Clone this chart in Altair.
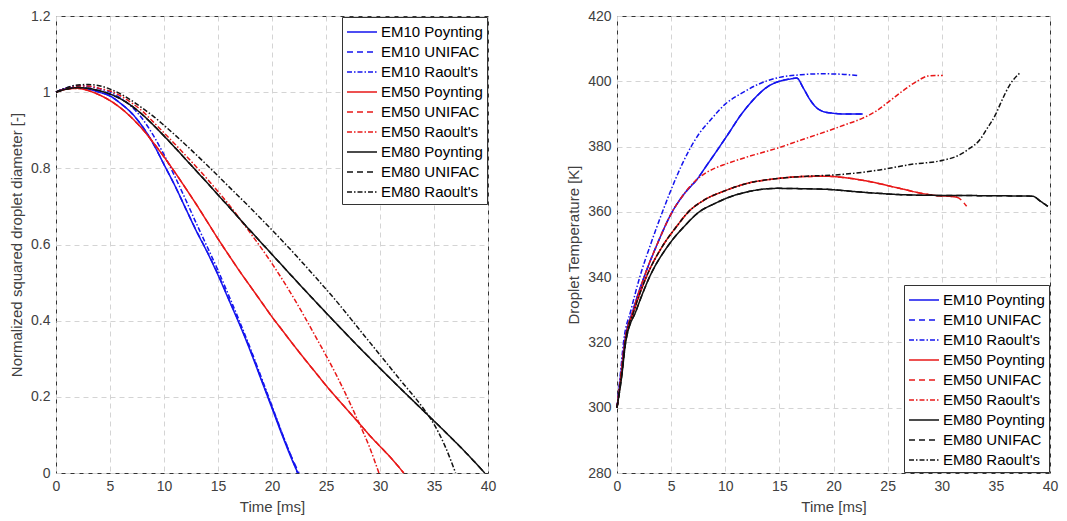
import altair as alt
import pandas as pd

series = ["EM10 Poynting", "EM10 UNIFAC", "EM10 Raoult's",
          "EM50 Poynting", "EM50 UNIFAC", "EM50 Raoult's",
          "EM80 Poynting", "EM80 UNIFAC", "EM80 Raoult's"]
colors = ["#1414ee", "#1414ee", "#1414ee",
          "#e81818", "#e81818", "#e81818",
          "#111111", "#111111", "#111111"]
dashes = [[1, 0], [6, 4], [5, 2, 1.5, 2]] * 3

# ---------------- left panel: normalized squared diameter ----------------
t_em10_poy = [0, 1, 2, 3, 4, 5, 6, 7, 8, 9, 10, 11, 12, 13, 14, 15, 16, 17, 18, 19, 20, 21, 22, 22.4]
d_em10_poy = [1, 1.01, 1.012, 1.008, 1.0, 0.99, 0.97, 0.945, 0.91, 0.865, 0.81, 0.755, 0.695, 0.635,
              0.58, 0.52, 0.455, 0.39, 0.32, 0.245, 0.17, 0.095, 0.025, 0]
t_em10_uni = [0, 1, 2, 3, 4, 5, 6, 7, 8, 9, 10, 11, 12, 13, 14, 15, 16, 17, 18, 19, 20, 21, 22, 22.5]
d_em10_uni = [1, 1.01, 1.012, 1.008, 1.0, 0.99, 0.97, 0.945, 0.91, 0.865, 0.81, 0.755, 0.695, 0.636,
              0.581, 0.522, 0.457, 0.392, 0.323, 0.248, 0.173, 0.099, 0.03, 0]
t_em10_rao = [0, 1, 2, 3, 4, 5, 6, 7, 8, 9, 10, 11, 12, 13, 14, 15, 16, 17, 18, 19, 20, 21, 22, 22.35]
d_em10_rao = [1, 1.012, 1.017, 1.015, 1.009, 1.0, 0.984, 0.962, 0.93, 0.887, 0.836, 0.779, 0.718, 0.655,
              0.594, 0.532, 0.466, 0.398, 0.327, 0.252, 0.176, 0.1, 0.027, 0]

t_em50_poy = [0, 1, 2, 3, 4, 5, 6, 7, 8, 9, 10, 11, 12, 13, 14, 15, 16, 17, 18, 19, 20, 21, 22, 23, 24,
              25, 26, 27, 28, 29, 30, 31, 32.2]
d_em50_poy = [1, 1.008, 1.01, 1.004, 0.993, 0.978, 0.958, 0.933, 0.903, 0.868, 0.83, 0.79, 0.748, 0.705,
              0.66, 0.615, 0.572, 0.53, 0.49, 0.45, 0.41, 0.373, 0.336, 0.3, 0.265, 0.23, 0.197, 0.165,
              0.133, 0.1, 0.07, 0.04, 0]
t_em50_uni = t_em50_poy
d_em50_uni = d_em50_poy
t_em50_rao = [0, 1, 2, 3, 4, 5, 6, 7, 8, 9, 10, 11, 12, 14, 16, 18, 20, 22, 24, 26, 28, 29, 29.9]
d_em50_rao = [1, 1.01, 1.016, 1.016, 1.01, 1.003, 0.99, 0.972, 0.95, 0.922, 0.893, 0.864, 0.834, 0.772,
              0.705, 0.63, 0.55, 0.46, 0.36, 0.255, 0.135, 0.07, 0]

t_em80_poy = [0, 1, 2, 3, 4, 5, 6, 7, 8, 9, 10, 11, 12, 14, 16, 18, 20, 22, 24, 26, 28, 30, 32, 34, 36,
              38, 39.7]
d_em80_poy = [1, 1.008, 1.012, 1.01, 1.004, 0.995, 0.982, 0.964, 0.941, 0.914, 0.885, 0.855, 0.824,
              0.762, 0.699, 0.636, 0.574, 0.512, 0.451, 0.391, 0.332, 0.275, 0.219, 0.164, 0.109, 0.052, 0]
t_em80_uni = t_em80_poy
d_em80_uni = d_em80_poy
t_em80_rao = [0, 1, 2, 3, 4, 5, 6, 7, 8, 9, 10, 12, 14, 16, 18, 20, 22, 24, 26, 28, 30, 32, 34, 35, 36, 37]
d_em80_rao = [1, 1.012, 1.019, 1.02, 1.017, 1.008, 0.995, 0.978, 0.958, 0.937, 0.913, 0.862, 0.808, 0.752,
              0.696, 0.638, 0.578, 0.515, 0.45, 0.38, 0.31, 0.24, 0.17, 0.128, 0.072, 0]

# ---------------- right panel: droplet temperature ----------------
tt_em10_poy = [0, 0.35, 0.7, 1.5, 2.5, 3.7, 5.1, 6.2, 7.4, 8.3, 9.2, 10.3, 11.4, 12.5, 13.9, 15, 16, 16.6,
               17.2, 17.8, 18.4, 19, 20, 21, 22.7]
T_em10_poy = [300, 310, 320, 330, 340, 350, 360, 365.5, 370, 374.3, 378.6, 384, 389.5, 394, 398.3, 400,
              400.7, 401, 398, 394.5, 392, 390.8, 390.2, 390, 390]
tt_em10_uni = tt_em10_poy
T_em10_uni = T_em10_poy
tt_em10_rao = [0, 0.3, 0.6, 1.3, 2.1, 3.1, 4.2, 5.4, 6.6, 7.6, 8.6, 10, 11.6, 13, 15, 17, 19, 21, 22.3]
T_em10_rao = [300, 310, 320, 330, 340, 350, 360, 370, 378.5, 384, 388, 393, 396.5, 399, 401.2, 402, 402.3,
              402.1, 401.7]

tt_em50_poy = [0, 0.4, 0.75, 1.6, 2.7, 4.3, 5.5, 6.6, 8, 10, 12, 14.8, 17, 19.4, 21, 23.3, 26.1, 28.6, 29.8,
               30.6, 31.4]
T_em50_poy = [300, 310, 320, 330, 340, 350, 355.5, 360, 363.5, 366.5, 368.7, 370.2, 370.8, 370.9, 370.5,
              369.3, 367.2, 365.4, 364.9, 364.8, 364.5]
tt_em50_uni = tt_em50_poy + [32.3]
T_em50_uni = T_em50_poy + [361.7]
tt_em50_rao = [0, 0.35, 0.7, 1.5, 2.5, 3.7, 5.1, 6.2, 7.4, 8, 9, 10, 12, 14.8, 17, 19.4, 21, 22.7, 24, 25.2,
               26.5, 27.7, 28.7, 29.4, 30.1]
T_em50_rao = [300, 310, 320, 330, 340, 350, 360, 365.5, 370, 371.5, 373.3, 374.6, 376.8, 379.5, 382, 384.7,
              386.6, 388.7, 391, 394, 397.3, 400, 401.6, 401.8, 401.8]

tt_em80_poy = [0, 0.45, 0.8, 1.8, 3.0, 4.8, 6.2, 7.6, 9, 10.2, 12, 14.8, 17, 19.4, 22, 24, 26, 28, 32, 36,
               38.4, 39.1, 39.8]
T_em80_poy = [300, 310, 320, 330, 340, 350, 355.5, 360, 362.5, 364.3, 366.1, 367.2, 367.1, 366.9, 366.2,
              365.7, 365.3, 365.1, 365, 364.9, 364.8, 363.3, 361.7]
tt_em80_uni = tt_em80_poy
T_em80_uni = T_em80_poy
tt_em80_rao = [0, 0.4, 0.75, 1.6, 2.7, 4.3, 5.5, 6.6, 8, 10, 12, 14.8, 17, 20.9, 24, 27.1, 30.1, 31.5, 32.6,
               33.5, 34.2, 35, 35.4, 36.3, 37.2]
T_em80_rao = [300, 310, 320, 330, 340, 350, 355.5, 360, 363.5, 366.5, 368.7, 370.2, 370.8, 371.5, 372.7,
              374.5, 375.8, 377.2, 379.5, 382, 385.6, 390, 393, 399, 402.5]

left_sets = [(t_em10_poy, d_em10_poy), (t_em10_uni, d_em10_uni), (t_em10_rao, d_em10_rao),
             (t_em50_poy, d_em50_poy), (t_em50_uni, d_em50_uni), (t_em50_rao, d_em50_rao),
             (t_em80_poy, d_em80_poy), (t_em80_uni, d_em80_uni), (t_em80_rao, d_em80_rao)]
right_sets = [(tt_em10_poy, T_em10_poy), (tt_em10_uni, T_em10_uni), (tt_em10_rao, T_em10_rao),
              (tt_em50_poy, T_em50_poy), (tt_em50_uni, T_em50_uni), (tt_em50_rao, T_em50_rao),
              (tt_em80_poy, T_em80_poy), (tt_em80_uni, T_em80_uni), (tt_em80_rao, T_em80_rao)]


def build(sets):
    rows = []
    for k, (ts, vs) in enumerate(sets):
        for i, (t, v) in enumerate(zip(ts, vs)):
            rows.append({"series": series[k], "order": k, "i": i, "t": t, "v": v})
    return pd.DataFrame(rows)


df_left = build(left_sets)
df_right = build(right_sets)

FONT = "Liberation Sans"
x_ticks = [0, 5, 10, 15, 20, 25, 30, 35, 40]


def panel(df, ytitle, ydom, yticks, yfmt, legend_orient, w, h):
    legend = alt.Legend(orient=legend_orient, offset=1, strokeColor="#333333", fillColor="white",
                        padding=4, labelFontSize=15, labelFont=FONT, labelColor="#000000",
                        symbolType="M-1,0H2", symbolSize=400, symbolStrokeWidth=1.5,
                        labelLimit=0, rowPadding=1, labelOffset=13, cornerRadius=0)
    return alt.Chart(df).mark_line(strokeWidth=1.5, interpolate="monotone").encode(
        x=alt.X("t:Q", title="Time [ms]",
                scale=alt.Scale(domain=[0, 40], nice=False, zero=False),
                axis=alt.Axis(values=x_ticks, format="d", labelFlush=False)),
        y=alt.Y("v:Q", title=ytitle,
                scale=alt.Scale(domain=ydom, nice=False, zero=False),
                axis=alt.Axis(values=yticks, format=yfmt)),
        color=alt.Color("series:N", title=None,
                        scale=alt.Scale(domain=series, range=colors), legend=legend),
        strokeDash=alt.StrokeDash("series:N", title=None,
                                  scale=alt.Scale(domain=series, range=dashes), legend=legend),
        order=alt.Order("i:Q"),
    ).properties(width=w, height=h)


left = panel(df_left, "Normalized squared droplet diameter [-]", [0, 1.2],
             [0, 0.2, 0.4, 0.6, 0.8, 1.0, 1.2], "~g", "top-right", 432, 457)
right = panel(df_right, "Droplet Temperature [K]", [280, 420],
              [280, 300, 320, 340, 360, 380, 400, 420], "d", "bottom-right", 433, 457)

chart = alt.hconcat(left, right, spacing=69).resolve_scale(
    color="independent", strokeDash="independent"
).resolve_legend(
    color="independent", strokeDash="independent"
).configure(
    padding={"left": 9, "top": 8, "right": 8, "bottom": 5},
    background="white",
).configure_view(
    stroke="#333333", strokeWidth=1
).configure_axis(
    domain=False, ticks=False,
    grid=True, gridColor="#d4d4d4", gridDash=[5, 4], gridWidth=1,
    labelFont=FONT, labelFontSize=14, labelColor="#404040", labelPadding=6,
    titleFont=FONT, titleFontSize=15, titleColor="#404040", titleFontWeight="normal",
    titlePadding=6,
)

chart.save("out.html", embed_options={"renderer": "svg", "actions": False})
